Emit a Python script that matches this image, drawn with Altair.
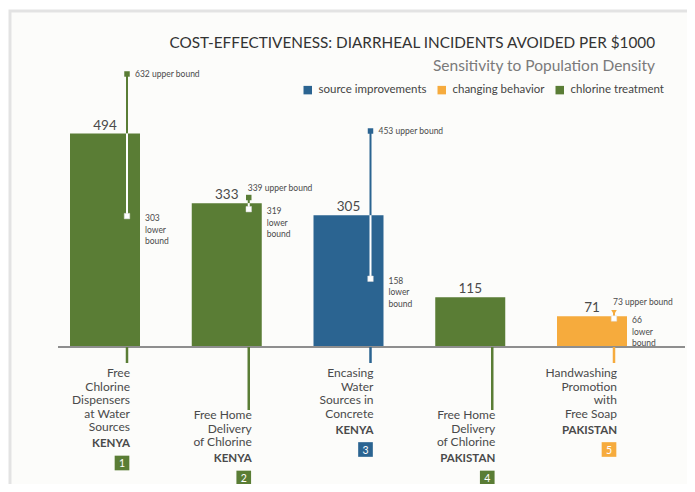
import altair as alt
import pandas as pd

# ---------------- data ----------------
numbers = [1, 2, 3, 4, 5]
programs = [
    ["Free", "Chlorine", "Dispensers", "at Water", "Sources"],
    ["Free Home", "Delivery", "of Chlorine"],
    ["Encasing", "Water", "Sources in", "Concrete"],
    ["Free Home", "Delivery", "of Chlorine"],
    ["Handwashing", "Promotion", "with", "Free Soap"],
]
countries = ["Kenya", "Kenya", "Kenya", "Pakistan", "Pakistan"]
categories = ["chlorine treatment", "chlorine treatment", "source improvements",
              "chlorine treatment", "changing behavior"]
incidents = [494, 333, 305, 115, 71]
upper_printed = [632, 339, 453, None, 73]   # values written in the labels
upper_drawn = [632, 346, 500, None, 80]     # where the markers sit in the picture
lower_bounds = [303, 319, 158, None, 66]

legend_order = ["source improvements", "changing behavior", "chlorine treatment"]
palette = ["#2b6491", "#f6ab3d", "#5a7d35"]

# ---------------- geometry ----------------
PX = 121.75      # pixels per category step
PY = 0.432       # pixels per incident
W, H = 627, 414
PAD_L, PAD_T = 50, 62
plot_top = 8 + PAD_T
zero_page = 347
y_max = (zero_page - plot_top) / PY
y_min = -(plot_top + H - zero_page) / PY
x_min = 1 - 47 / PX
x_max = x_min + W / PX


def below(px):
    return -px / PY


rows = []
for i, n in enumerate(numbers):
    odd = n % 2 == 1
    first = 26 if odd else 68
    nl = len(programs[i])
    country_px = first + (nl - 1) * 13.5 + 17
    box_px = country_px + 19
    xe = n + 22 / PX
    up = upper_drawn[i]
    rows.append({
        "n": n,
        "type": categories[i],
        "value": incidents[i],
        "zero": 0,
        "xl": n - 35 / PX,
        "xr": n + 35 / PX,
        "xe": xe,
        "upper": up,
        "lower": lower_bounds[i],
        "near": (up is not None and up - incidents[i] < 20),
        "shape": "triangle-down" if categories[i] == "changing behavior" else "square",
        "up_label": None if upper_printed[i] is None else f"{upper_printed[i]} upper bound",
        "low_label": None if lower_bounds[i] is None else f"{lower_bounds[i]}\nlower\nbound",
        "x_low_label": n + 40 / PX,
        "stem_end": below(16 if odd else 63),
        "xt": xe + 3 / PX,
        "prog": "\n".join(programs[i]),
        "prog_y": below(first - 5),
        "country": countries[i].upper(),
        "country_y": below(country_px),
        "xbox": xe - 5 / PX,
        "box_y": below(box_px),
        "num": str(n),
    })
df = pd.DataFrame(rows)

# ---------------- encodings ----------------
xs = alt.Scale(domain=[x_min, x_max], nice=False, zero=False)
ys = alt.Scale(domain=[y_min, y_max], nice=False, zero=False)

legend = alt.Legend(title=None, orient="none", direction="horizontal",
                    legendX=244, legendY=14, symbolType="square", symbolSize=72,
                    symbolStrokeWidth=0, labelFontSize=11.5, labelColor="#444",
                    labelFont="Lato", columnPadding=9, labelOffset=5, padding=0)
color = alt.Color("type:N", scale=alt.Scale(domain=legend_order, range=palette),
                  legend=legend)


def X(f):
    return alt.X(f"{f}:Q", scale=xs, axis=None)


def Y(f, axis=False):
    if axis:
        return alt.Y(f"{f}:Q", scale=ys,
                     axis=alt.Axis(values=[0, 100, 200, 300, 400, 500, 600], title=None,
                                   domain=False, ticks=False, grid=False,
                                   labelPadding=6, labelFontSize=12,
                                   labelColor="#444", labelFont="Lato"))
    return alt.Y(f"{f}:Q", scale=ys)


base = alt.Chart(df)
has_bounds = "isValid(datum.upper)"

frame = alt.Chart(pd.DataFrame({"a": [0]})).mark_rect(
    fill="#fcfcfa", stroke="#e3e3e3", strokeWidth=3
).encode(x=alt.value(-48), x2=alt.value(W + 20), y=alt.value(-59), y2=alt.value(H + 20))

bars = base.mark_bar().encode(x=X("xl"), x2="xr", y=Y("value", axis=True), y2="zero",
                              color=color)

baseline = alt.Chart(pd.DataFrame({"z": [0]})).mark_rule(
    color="#8e8e8e", strokeWidth=2
).encode(y=Y("z"))

err_up = base.transform_filter(has_bounds).mark_rule(strokeWidth=2).encode(
    x=X("xe"), y=Y("value"), y2="upper", color=color)
err_in = base.transform_filter(has_bounds).mark_rule(strokeWidth=2, color="white").encode(
    x=X("xe"), y=Y("lower"), y2="value")
mark_up = base.transform_filter(has_bounds).mark_point(filled=True, opacity=1, size=30).encode(
    x=X("xe"), y=Y("upper"), color=color, shape=alt.Shape("shape:N", scale=None))
mark_low = base.transform_filter(has_bounds).mark_square(
    size=30, opacity=1, color="white", stroke="#dddddd", strokeWidth=0.5).encode(
    x=X("xe"), y=Y("lower"))

txt = dict(font="Lato", color="#4a4a4a")
up_far = base.transform_filter(has_bounds).transform_filter("!datum.near").mark_text(
    align="left", baseline="middle", fontSize=8.5, dx=8, **txt).encode(
    x=X("xe"), y=Y("upper"), text="up_label:N")
up_near = base.transform_filter(has_bounds).transform_filter("datum.near").mark_text(
    align="left", baseline="middle", fontSize=8.5, dx=-1, dy=-10, **txt).encode(
    x=X("xe"), y=Y("upper"), text="up_label:N")
low_lab = base.transform_filter(has_bounds).mark_text(
    align="left", baseline="top", fontSize=8.5, lineBreak="\n", lineHeight=11.5,
    dy=-2, **txt).encode(x=X("x_low_label"), y=Y("lower"), text="low_label:N")

val_lab = base.mark_text(baseline="bottom", fontSize=13.5, dy=-1, **txt).encode(
    x=X("n"), y=Y("value"), text="value:Q")

stems = base.mark_rule(strokeWidth=2.5).encode(
    x=X("xe"), y=Y("zero"), y2="stem_end", color=color)

prog_lab = base.mark_text(align="right", baseline="top", fontSize=12, lineBreak="\n",
                          lineHeight=13.5, **txt).encode(
    x=X("xt"), y=Y("prog_y"), text="prog:N")
country_lab = base.mark_text(align="right", baseline="middle", fontSize=11.5,
                             fontWeight="bold", font="Lato", color="#4a4a4a").encode(
    x=X("xt"), y=Y("country_y"), text="country:N")
boxes = base.mark_square(size=215, opacity=1).encode(
    x=X("xbox"), y=Y("box_y"), color=color)
box_num = base.mark_text(fontSize=10.5, font="Lato", color="white", baseline="middle",
                         dy=1).encode(x=X("xbox"), y=Y("box_y"), text="num:N")

chart = alt.layer(
    frame, bars, baseline, err_up, err_in, mark_up, mark_low, up_far, up_near, low_lab,
    val_lab, stems, prog_lab, country_lab, boxes, box_num
).properties(
    width=W, height=H,
    autosize=alt.AutoSizeParams(type="none"),
    padding={"left": PAD_L, "top": PAD_T, "right": 2, "bottom": 0},
    title=alt.TitleParams(
        text="COST-EFFECTIVENESS: DIARRHEAL INCIDENTS AVOIDED PER $1000",
        subtitle="Sensitivity to Population Density",
        anchor="end", frame="group", dx=-30, dy=65, offset=0,
        font="Lato", fontSize=15.3, fontWeight="normal", color="#333",
        subtitleFont="Lato", subtitleFontSize=15.5, subtitleColor="#7a7a7a",
        subtitlePadding=8,
    ),
).configure_view(stroke=None).configure(background="white")

chart.save("out.html", embed_options={"renderer": "svg", "actions": False})
